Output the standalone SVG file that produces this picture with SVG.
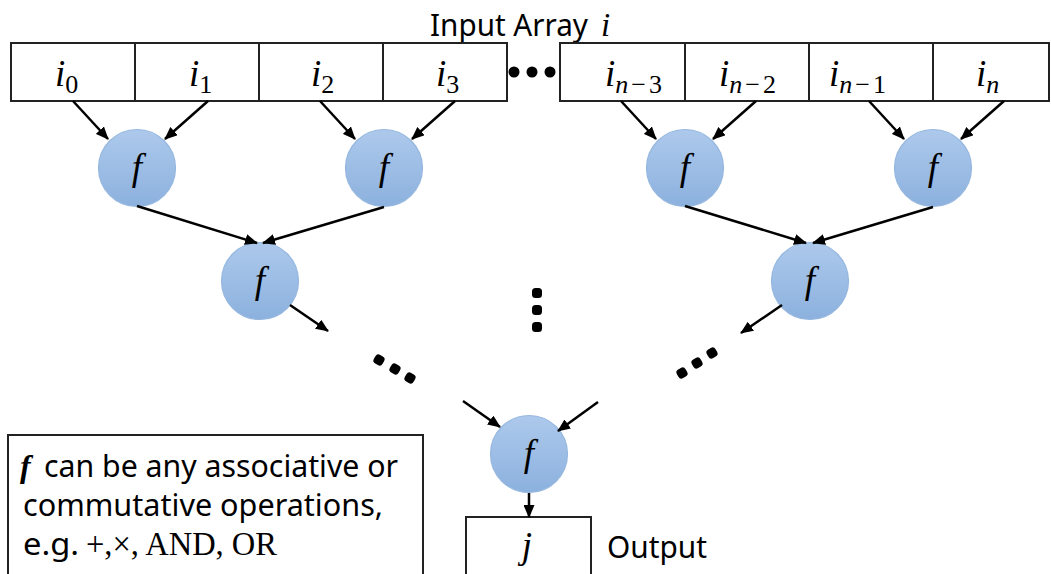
<svg xmlns="http://www.w3.org/2000/svg" width="1051" height="574" viewBox="0 0 1051 574">
  <defs>
    <linearGradient id="ballFill" x1="0" y1="0" x2="0" y2="1">
      <stop offset="0" stop-color="#adc9ec"/>
      <stop offset="1" stop-color="#8cb1de"/>
    </linearGradient>
    <marker id="head" viewBox="0 0 13 11" refX="12" refY="5.5" markerWidth="13" markerHeight="11" markerUnits="userSpaceOnUse" orient="auto">
      <path d="M0,0 L13,5.5 L0,11 Z" fill="#000"/>
    </marker>
    <style>
      .cell { fill: #fff; stroke: #222; stroke-width: 2; }
      .ball { fill: url(#ballFill); stroke: #95b7df; stroke-width: 1.2; }
      .math { font-family: "Liberation Serif", "DejaVu Serif", serif; font-style: italic; fill: #000; }
      .sub { font-family: "Liberation Serif", "DejaVu Serif", serif; font-style: normal; font-size: 26px; }
      .subi { font-family: "Liberation Serif", "DejaVu Serif", serif; font-style: italic; font-size: 26px; }
      .sans { font-family: "Noto Sans", "Open Sans", "Liberation Sans", sans-serif; fill: #000; }
      .edge { stroke: #000; stroke-width: 2.5; fill: none; marker-end: url(#head); }
      .dot { fill: #000; }
    </style>
  </defs>

  <!-- title of the input array -->
  <g id="title">
    <text class="sans" x="430" y="36" font-size="30" textLength="158" lengthAdjust="spacingAndGlyphs">Input Array</text>
    <text class="math" x="601" y="36" font-size="33">i</text>
  </g>

  <!-- left part of the input array -->
  <g id="array-left">
    <rect class="cell" x="11" y="43" width="124" height="58"/>
    <rect class="cell" x="135" y="43" width="124" height="58"/>
    <rect class="cell" x="259" y="43" width="124" height="58"/>
    <rect class="cell" x="383" y="43" width="124" height="58"/>
    <text class="math" x="55" y="86" font-size="37">i<tspan class="sub" dy="7">0</tspan></text>
    <text class="math" x="189" y="86" font-size="37">i<tspan class="sub" dy="7">1</tspan></text>
    <text class="math" x="311" y="86" font-size="37">i<tspan class="sub" dy="7">2</tspan></text>
    <text class="math" x="436" y="86" font-size="37">i<tspan class="sub" dy="7">3</tspan></text>
  </g>

  <!-- ellipsis between the two parts -->
  <g id="array-gap">
    <circle class="dot" cx="514" cy="72" r="5.5"/>
    <circle class="dot" cx="532" cy="72" r="5.5"/>
    <circle class="dot" cx="550" cy="72" r="5.5"/>
  </g>

  <!-- right part of the input array -->
  <g id="array-right">
    <rect class="cell" x="560" y="43" width="125" height="58"/>
    <rect class="cell" x="685" y="43" width="124" height="58"/>
    <rect class="cell" x="809" y="43" width="124" height="58"/>
    <rect class="cell" x="933" y="43" width="116" height="58"/>
    <text class="math" x="605" y="86" font-size="37">i<tspan class="subi" dy="7">n</tspan><tspan class="sub" dx="3">−</tspan><tspan class="sub" dx="3">3</tspan></text>
    <text class="math" x="719" y="86" font-size="37">i<tspan class="subi" dy="7">n</tspan><tspan class="sub" dx="3">−</tspan><tspan class="sub" dx="3">2</tspan></text>
    <text class="math" x="829" y="86" font-size="37">i<tspan class="subi" dy="7">n</tspan><tspan class="sub" dx="3">−</tspan><tspan class="sub" dx="3">1</tspan></text>
    <text class="math" x="976" y="86" font-size="37">i<tspan class="subi" dy="7">n</tspan></text>
  </g>

  <!-- reduction nodes -->
  <g id="f-1a"><circle class="ball" cx="137" cy="168" r="38.5"/><text class="math" x="137" y="180" font-size="37" text-anchor="middle">f</text></g>
  <g id="f-1b"><circle class="ball" cx="384" cy="168" r="38.5"/><text class="math" x="384" y="180" font-size="37" text-anchor="middle">f</text></g>
  <g id="f-1c"><circle class="ball" cx="685" cy="168" r="38.5"/><text class="math" x="685" y="180" font-size="37" text-anchor="middle">f</text></g>
  <g id="f-1d"><circle class="ball" cx="933" cy="168" r="38.5"/><text class="math" x="933" y="180" font-size="37" text-anchor="middle">f</text></g>
  <g id="f-2a"><circle class="ball" cx="260" cy="281" r="38.5"/><text class="math" x="260" y="293" font-size="37" text-anchor="middle">f</text></g>
  <g id="f-2b"><circle class="ball" cx="810" cy="281" r="38.5"/><text class="math" x="810" y="293" font-size="37" text-anchor="middle">f</text></g>
  <g id="f-root"><circle class="ball" cx="529" cy="454" r="38.5"/><text class="math" x="529" y="466" font-size="37" text-anchor="middle">f</text></g>

  <!-- elided middle levels -->
  <g id="ellipses">
    <rect class="dot" x="532" y="288" width="10" height="10" rx="3.5"/>
    <rect class="dot" x="532" y="305" width="10" height="10" rx="3.5"/>
    <rect class="dot" x="532" y="322" width="10" height="10" rx="3.5"/>
    <rect class="dot" x="374" y="355" width="10" height="10" rx="3.5" transform="rotate(30 379 360)"/>
    <rect class="dot" x="390" y="364" width="10" height="10" rx="3.5" transform="rotate(30 395 369)"/>
    <rect class="dot" x="405" y="373" width="10" height="10" rx="3.5" transform="rotate(30 410 378)"/>
    <rect class="dot" x="677" y="368" width="10" height="10" rx="3.5" transform="rotate(-30 682 373)"/>
    <rect class="dot" x="692" y="358" width="10" height="10" rx="3.5" transform="rotate(-30 697 363)"/>
    <rect class="dot" x="707" y="348" width="10" height="10" rx="3.5" transform="rotate(-30 712 353)"/>
  </g>

  <!-- output cell -->
  <g id="output">
    <rect class="cell" x="466" y="517" width="125" height="64"/>
    <text class="math" x="527" y="558" font-size="37" text-anchor="middle">j</text>
    <text class="sans" x="607" y="558" font-size="30" textLength="100" lengthAdjust="spacingAndGlyphs">Output</text>
  </g>

  <!-- note on the operator -->
  <g id="note">
    <rect class="cell" x="8" y="435" width="415" height="150"/>
    <text class="math" x="20" y="477" font-size="32" font-weight="bold">f</text>
    <text class="sans" x="44" y="477" font-size="31" textLength="354" lengthAdjust="spacingAndGlyphs">can be any associative or</text>
    <text class="sans" x="23" y="516" font-size="31" textLength="360" lengthAdjust="spacingAndGlyphs">commutative operations,</text>
    <text class="sans" x="23" y="555" font-size="31" textLength="56" lengthAdjust="spacingAndGlyphs">e.g.</text>
    <text x="86" y="555" font-size="33" font-family="Liberation Serif, DejaVu Serif, serif" textLength="191" lengthAdjust="spacingAndGlyphs">+,×, AND, OR</text>
  </g>

  <!-- connectors -->
  <g id="connectors">
    <line class="edge" x1="73" y1="101" x2="108" y2="139"/>
    <line class="edge" x1="208" y1="101" x2="165" y2="139"/>
    <line class="edge" x1="320" y1="101" x2="355" y2="139"/>
    <line class="edge" x1="455" y1="101" x2="412" y2="139"/>
    <line class="edge" x1="621" y1="101" x2="656" y2="139"/>
    <line class="edge" x1="756" y1="101" x2="713" y2="139"/>
    <line class="edge" x1="869" y1="101" x2="904" y2="139"/>
    <line class="edge" x1="1004" y1="101" x2="961" y2="139"/>
    <line class="edge" x1="137" y1="206" x2="257" y2="243"/>
    <line class="edge" x1="384" y1="207" x2="263" y2="243"/>
    <line class="edge" x1="685" y1="206" x2="806" y2="243"/>
    <line class="edge" x1="933" y1="207" x2="813" y2="243"/>
    <line class="edge" x1="290" y1="305" x2="328" y2="331"/>
    <line class="edge" x1="782" y1="305" x2="741" y2="333"/>
    <line class="edge" x1="463" y1="401" x2="500" y2="427"/>
    <line class="edge" x1="598" y1="402" x2="558" y2="431"/>
    <line class="edge" x1="529" y1="493" x2="529" y2="517"/>
  </g>
</svg>
